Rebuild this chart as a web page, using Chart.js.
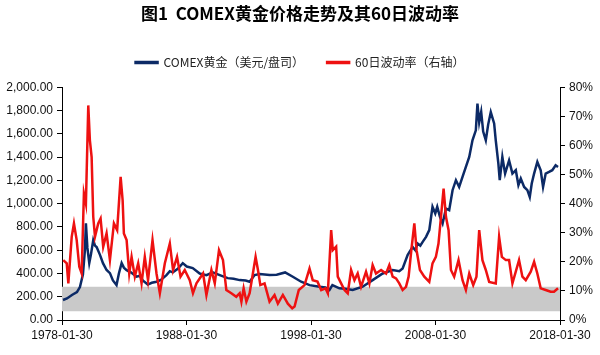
<!DOCTYPE html>
<html><head><meta charset="utf-8">
<script src="https://cdn.jsdelivr.net/npm/chart.js@4.4.1/dist/chart.umd.min.js"></script>
<style>html,body{margin:0;padding:0;background:#fff;}</style>
</head><body>
<canvas id="c" width="600" height="355"></canvas>
<script>
const titleText = '图1  COMEX黄金价格走势及其60日波动率';
const seriesNames = ['COMEX黄金（美元/盘司）', '60日波动率（右轴）'];
const xTickValues = [1978.08, 1988.08, 1998.08, 2008.08, 2018.08];
const xTickLabels = ['1978-01-30', '1988-01-30', '1998-01-30', '2008-01-30', '2018-01-30'];
const leftTicks = [0, 200, 400, 600, 800, 1000, 1200, 1400, 1600, 1800, 2000];
const rightTicks = [0, 10, 20, 30, 40, 50, 60, 70, 80];

const goldYears = [1978.16,1978.48,1978.88,1979.28,1979.52,1979.76,1979.92,1980.00,1980.12,1980.27,1980.40,1980.59,1980.73,1980.86,1981.13,1981.37,1981.66,1981.93,1982.17,1982.46,1982.65,1982.87,1983.05,1983.27,1983.61,1984.07,1984.33,1984.57,1984.97,1985.29,1985.67,1986.02,1986.47,1986.74,1986.98,1987.38,1987.78,1988.10,1988.58,1989.14,1989.68,1990.19,1990.75,1991.39,1991.87,1992.35,1992.83,1993.15,1993.55,1993.95,1994.76,1995.32,1996.00,1996.62,1997.29,1997.96,1998.76,1999.24,1999.56,1999.80,2000.36,2000.84,2001.43,2002.23,2003.03,2003.84,2004.64,2005.17,2005.44,2005.84,2006.24,2006.46,2006.64,2006.86,2007.05,2007.32,2007.58,2007.84,2008.06,2008.22,2008.44,2008.65,2008.92,2009.18,2009.45,2009.72,2009.98,2010.25,2010.52,2010.79,2011.05,2011.32,2011.45,2011.59,2011.75,2011.91,2012.12,2012.31,2012.52,2012.79,2012.92,2013.13,2013.24,2013.45,2013.67,2013.99,2014.26,2014.53,2014.74,2014.93,2015.20,2015.46,2015.65,2015.81,2016.00,2016.26,2016.53,2016.72,2016.93,2017.20,2017.46,2017.73,2017.92];
const goldPrice = [172,185,215,240,283,390,600,832,620,489,560,687,640,627,560,489,430,403,340,300,400,489,450,429,410,372,380,340,305,320,329,345,386,420,410,440,489,460,446,400,386,410,386,360,355,343,340,329,386,395,388,390,409,372,329,300,286,280,258,300,272,268,258,286,343,400,429,420,443,558,629,600,658,640,672,715,773,973,916,973,887,830,958,944,1116,1202,1144,1230,1316,1402,1545,1631,1860,1700,1790,1620,1545,1680,1788,1690,1545,1345,1202,1402,1259,1373,1259,1288,1159,1216,1144,1116,1058,1173,1259,1359,1288,1144,1259,1273,1288,1330,1316];

const volYears = [1978.18,1978.46,1978.59,1978.86,1979.04,1979.26,1979.47,1979.66,1979.84,1980.00,1980.19,1980.32,1980.46,1980.59,1980.73,1980.99,1981.18,1981.39,1981.66,1981.93,1982.25,1982.51,1982.79,1982.95,1983.05,1983.27,1983.48,1983.67,1983.93,1984.20,1984.47,1984.73,1984.99,1985.35,1985.67,1985.94,1986.34,1986.74,1987.00,1987.32,1987.60,1987.94,1988.34,1988.60,1988.88,1989.41,1989.68,1990.08,1990.35,1990.69,1991.01,1991.28,1991.68,1992.08,1992.35,1992.49,1992.67,1992.89,1993.15,1993.37,1993.63,1993.82,1994.01,1994.35,1994.75,1995.15,1995.42,1995.82,1996.22,1996.57,1996.76,1997.10,1997.56,1997.96,1998.22,1998.60,1998.90,1999.24,1999.43,1999.70,1999.83,2000.10,2000.23,2000.50,2000.77,2001.03,2001.30,2001.57,2001.83,2002.10,2002.50,2002.77,2003.03,2003.30,2003.71,2004.11,2004.37,2004.64,2004.91,2005.17,2005.44,2005.71,2005.92,2006.14,2006.38,2006.56,2006.83,2007.18,2007.58,2007.84,2008.11,2008.32,2008.52,2008.73,2008.92,2009.13,2009.32,2009.58,2009.93,2010.25,2010.52,2010.79,2011.11,2011.37,2011.59,2011.85,2012.12,2012.39,2012.92,2013.19,2013.41,2013.73,2013.99,2014.26,2014.79,2015.06,2015.33,2015.73,2016.00,2016.26,2016.53,2016.93,2017.33,2017.60,2017.92];
const volPct = [20.6,19.5,12.6,28.6,33.2,27.5,18.3,16.0,43.5,40.0,73.8,61.8,56.0,35.5,28.6,33.2,34.9,25.2,29.8,20.6,33.2,30.9,49.2,41.2,29.8,27.5,16.0,21.7,14.9,19.5,12.6,21.7,13.7,27.5,16.0,9.2,19.5,26.3,17.2,21.7,14.9,17.2,13.7,9.2,12.6,16.0,8.6,17.2,12.6,24.0,20.6,10.3,9.2,8.0,9.2,6.3,10.9,6.3,9.2,14.9,21.7,17.2,12.0,12.6,6.3,8.6,5.6,8.6,5.6,4.0,4.6,10.3,12.0,17.7,13.7,13.2,10.3,10.9,9.2,30.9,24.0,25.2,14.9,12.6,10.3,9.2,17.2,13.7,16.0,11.4,16.6,12.6,18.9,16.0,17.2,16.0,18.9,14.9,14.3,12.6,10.3,11.4,14.9,24.0,33.2,24.0,17.2,14.9,13.1,19.5,21.7,26.3,35.5,45.2,35.5,30.9,17.2,14.9,20.6,13.7,10.3,16.0,12.0,14.9,30.9,20.6,17.2,13.1,12.6,28.6,21.7,20.6,20.6,12.6,20.6,14.9,13.7,16.6,20.0,16.0,10.9,10.3,9.7,9.7,10.9];

const bandYears = [1978.08, 2018.08];
const bandLow = [3, 3];
const bandHigh = [11.4, 11.4];

function pairs(xs, ys) { return xs.map((x, i) => ({ x: x, y: ys[i] })); }
function fmt2(v) {
  const s = Number(v).toFixed(2).split('.');
  return s[0].replace(/\B(?=(\d{3})+(?!\d))/g, ',') + '.' + s[1];
}

const tickFont = { family: '"Liberation Sans", Arial, sans-serif', size: 12 };
const cjkFont = '"Noto Sans CJK SC", "Noto Sans", sans-serif';

const legendSpacer = {
  id: 'legendSpacer',
  beforeLayout(chart) {
    const lg = chart.legend;
    if (lg && !lg._spacerWrapped) {
      const f = lg.fit;
      lg.fit = function () { f.call(this); this.height += 9; };
      lg._spacerWrapped = true;
    }
  }
};

new Chart(document.getElementById('c'), {
  type: 'line',
  data: {
    datasets: [
      { label: seriesNames[0], data: pairs(goldYears, goldPrice), yAxisID: 'y',
        borderColor: '#0c2a66', backgroundColor: '#0c2a66', borderWidth: 2.5, pointRadius: 0, tension: 0, order: 1 },
      { label: seriesNames[1], data: pairs(volYears, volPct), yAxisID: 'y2',
        borderColor: '#ee1111', backgroundColor: '#ee1111', borderWidth: 2.5, pointRadius: 0, tension: 0, order: 0 },
      { label: 'bandLow', data: pairs(bandYears, bandLow), yAxisID: 'y2',
        borderWidth: 0, borderColor: 'rgba(0,0,0,0)', pointRadius: 0, fill: false, order: 3 },
      { label: 'bandHigh', data: pairs(bandYears, bandHigh), yAxisID: 'y2',
        borderWidth: 0, borderColor: 'rgba(0,0,0,0)', backgroundColor: '#c9c9c9', pointRadius: 0, fill: '-1', order: 2 }
    ]
  },
  options: {
    responsive: false,
    animation: false,
    devicePixelRatio: 1,
    layout: { padding: { left: 0, right: 0, top: 0, bottom: 0 } },
    plugins: {
      title: { display: true, text: titleText, color: '#000',
        font: { family: cjkFont, size: 17, weight: 'bold' }, padding: { top: 3, bottom: 10 } },
      legend: { display: true, position: 'top',
        labels: { color: '#222', font: { family: cjkFont, size: 12 }, boxWidth: 22, boxHeight: 1, padding: 23,
          filter: (item) => item.datasetIndex < 2,
          sort: (a, b) => a.datasetIndex - b.datasetIndex } },
      tooltip: { enabled: false },
      filler: { propagate: false }
    },
    scales: {
      x: { type: 'linear', min: 1978.08, max: 2018.08,
        afterBuildTicks: (s) => { s.ticks = xTickValues.map(v => ({ value: v })); },
        afterFit: (s) => { s.height = 35; },
        ticks: { autoSkip: false, maxRotation: 0, color: '#111', font: tickFont, padding: 3,
          callback: (v, i) => xTickLabels[i] },
        grid: { drawOnChartArea: false, drawTicks: true, tickLength: 5, color: '#000' },
        border: { color: '#000', width: 1 } },
      y: { position: 'left', min: 0, max: 2000,
        afterBuildTicks: (s) => { s.ticks = leftTicks.map(v => ({ value: v })); },
        afterFit: (s) => { s.width = 62; },
        ticks: { color: '#111', font: tickFont, padding: 4, callback: (v) => fmt2(v) },
        grid: { drawOnChartArea: false, drawTicks: true, tickLength: 5, color: '#000' },
        border: { color: '#000', width: 1 } },
      y2: { position: 'right', min: 0, max: 80,
        afterBuildTicks: (s) => { s.ticks = rightTicks.map(v => ({ value: v })); },
        afterFit: (s) => { s.width = 40; },
        ticks: { color: '#111', font: tickFont, padding: 4, callback: (v) => v + '%' },
        grid: { drawOnChartArea: false, drawTicks: true, tickLength: 5, color: '#000' },
        border: { color: '#000', width: 1 } }
    }
  },
  plugins: [legendSpacer]
});
</script>
</body></html>
